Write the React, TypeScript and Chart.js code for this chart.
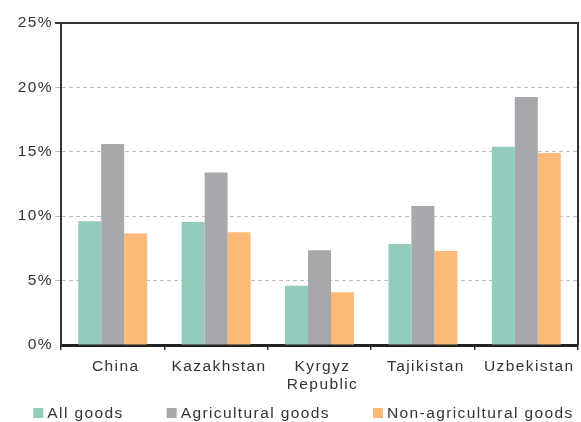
import React, { useEffect, useRef } from "react";
import { Chart, registerables } from "chart.js";

Chart.register(...registerables);

const categories: (string | string[])[] = ["China", "Kazakhstan", ["Kyrgyz", "Republic"], "Tajikistan", "Uzbekistan"];
const allGoods = [9.6, 9.55, 4.6, 7.85, 15.4];
const agriculturalGoods = [15.6, 13.4, 7.35, 10.8, 19.25];
const nonAgriculturalGoods = [8.65, 8.75, 4.1, 7.3, 14.9];
const seriesNames = ["All goods", "Agricultural goods", "Non-agricultural goods"];
const seriesColors = ["#93CBBD", "#A7A8AC", "#FBBA78"];
const yMax = 25;
const yStep = 5;

const FONT = "'Liberation Sans', Arial, Helvetica, sans-serif";
const FONT_SIZE = 15.5;
const SPACING = "1.4px";
const TEXT = "#333";

const spacingPlugin = {
  id: "letterSpacing",
  beforeLayout(chart: any) {
    chart.ctx.letterSpacing = SPACING;
  },
  beforeDraw(chart: any) {
    chart.ctx.letterSpacing = SPACING;
  },
};

const framePlugin = {
  id: "frame",
  afterDatasetsDraw(chart: any) {
    const { ctx, chartArea } = chart;
    ctx.save();
    ctx.strokeStyle = "#333";
    ctx.lineWidth = 2;
    ctx.beginPath();
    ctx.moveTo(chartArea.right, chartArea.top - 1);
    ctx.lineTo(chartArea.right, chartArea.bottom);
    ctx.stroke();
    ctx.restore();
  },
};

// Custom bottom legend drawn on the canvas
const legendPlugin = {
  id: "customLegend",
  afterDraw(chart: any) {
    const { ctx, width, height } = chart;
    ctx.save();
    ctx.letterSpacing = SPACING;
    ctx.font = `${FONT_SIZE}px ${FONT}`;
    ctx.textBaseline = "middle";
    ctx.textAlign = "left";
    const box = 10;
    const boxGap = 4;
    const itemGap = 43;
    const datasets = chart.data.datasets;
    const widths = datasets.map((d: any) => box + boxGap + ctx.measureText(d.label).width);
    const total = widths.reduce((a: number, b: number) => a + b, 0) + itemGap * (datasets.length - 1);
    const cy = height - 9;
    let x = width / 2 + 13 - total / 2;
    datasets.forEach((d: any, i: number) => {
      ctx.fillStyle = d.backgroundColor;
      ctx.fillRect(x, cy - box / 2, box, box);
      ctx.fillStyle = TEXT;
      ctx.fillText(d.label, x + box + boxGap, cy + 1);
      x += widths[i] + itemGap;
    });
    ctx.restore();
  },
};

export default function App() {
  const canvasRef = useRef<HTMLCanvasElement | null>(null);

  useEffect(() => {
    if (!canvasRef.current) return;
    const chart = new Chart(canvasRef.current, {
      type: "bar",
      data: {
        labels: categories as any,
        datasets: [
          { label: seriesNames[0], data: allGoods, backgroundColor: seriesColors[0] },
          { label: seriesNames[1], data: agriculturalGoods, backgroundColor: seriesColors[1] },
          { label: seriesNames[2], data: nonAgriculturalGoods, backgroundColor: seriesColors[2] },
        ],
      },
      options: {
        animation: false,
        responsive: true,
        maintainAspectRatio: false,
        layout: { padding: { left: 8, right: 3, top: 23, bottom: 30 } },
        datasets: { bar: { categoryPercentage: 0.667, barPercentage: 1 } },
        plugins: {
          tooltip: { enabled: false },
          legend: { display: false },
        },
        scales: {
          x: {
            z: 1,
            offset: true,
            afterFit: (s: any) => {
              s.height = 47;
            },
            grid: {
              offset: true,
              drawOnChartArea: false,
              drawTicks: true,
              tickLength: 5,
              color: "#333",
              lineWidth: 1.5,
            },
            border: { color: "#222", width: 3 },
            ticks: {
              color: TEXT,
              padding: 8,
              labelOffset: 3,
              font: { family: FONT, size: FONT_SIZE, lineHeight: 1.13 },
              maxRotation: 0,
              autoSkip: false,
            },
          },
          y: {
            min: 0,
            max: yMax,
            afterFit: (s: any) => {
              s.width = 53;
            },
            grid: {
              color: (c: any) =>
                c.tick && c.tick.value === yMax ? "#333" : c.tick && c.tick.value === 0 ? "rgba(0,0,0,0)" : "#bdbdbd",
              lineWidth: (c: any) => (c.tick && c.tick.value === yMax ? 2 : 1),
              tickLength: 6,
            },
            border: {
              color: "#333",
              width: 2,
              dash: (c: any) => (c.tick && c.tick.value === yMax ? [] : [4, 3]),
            } as any,
            ticks: {
              stepSize: yStep,
              padding: 2,
              color: TEXT,
              font: { family: FONT, size: FONT_SIZE },
              callback: (v: any) => `${v}%`,
            },
          },
        },
      },
      plugins: [spacingPlugin, framePlugin, legendPlugin],
    });
    return () => chart.destroy();
  }, []);

  return (
    <div style={{ position: "fixed", left: 0, top: 0, width: 581, height: 422, background: "#fff" }}>
      <canvas ref={canvasRef} />
    </div>
  );
}
